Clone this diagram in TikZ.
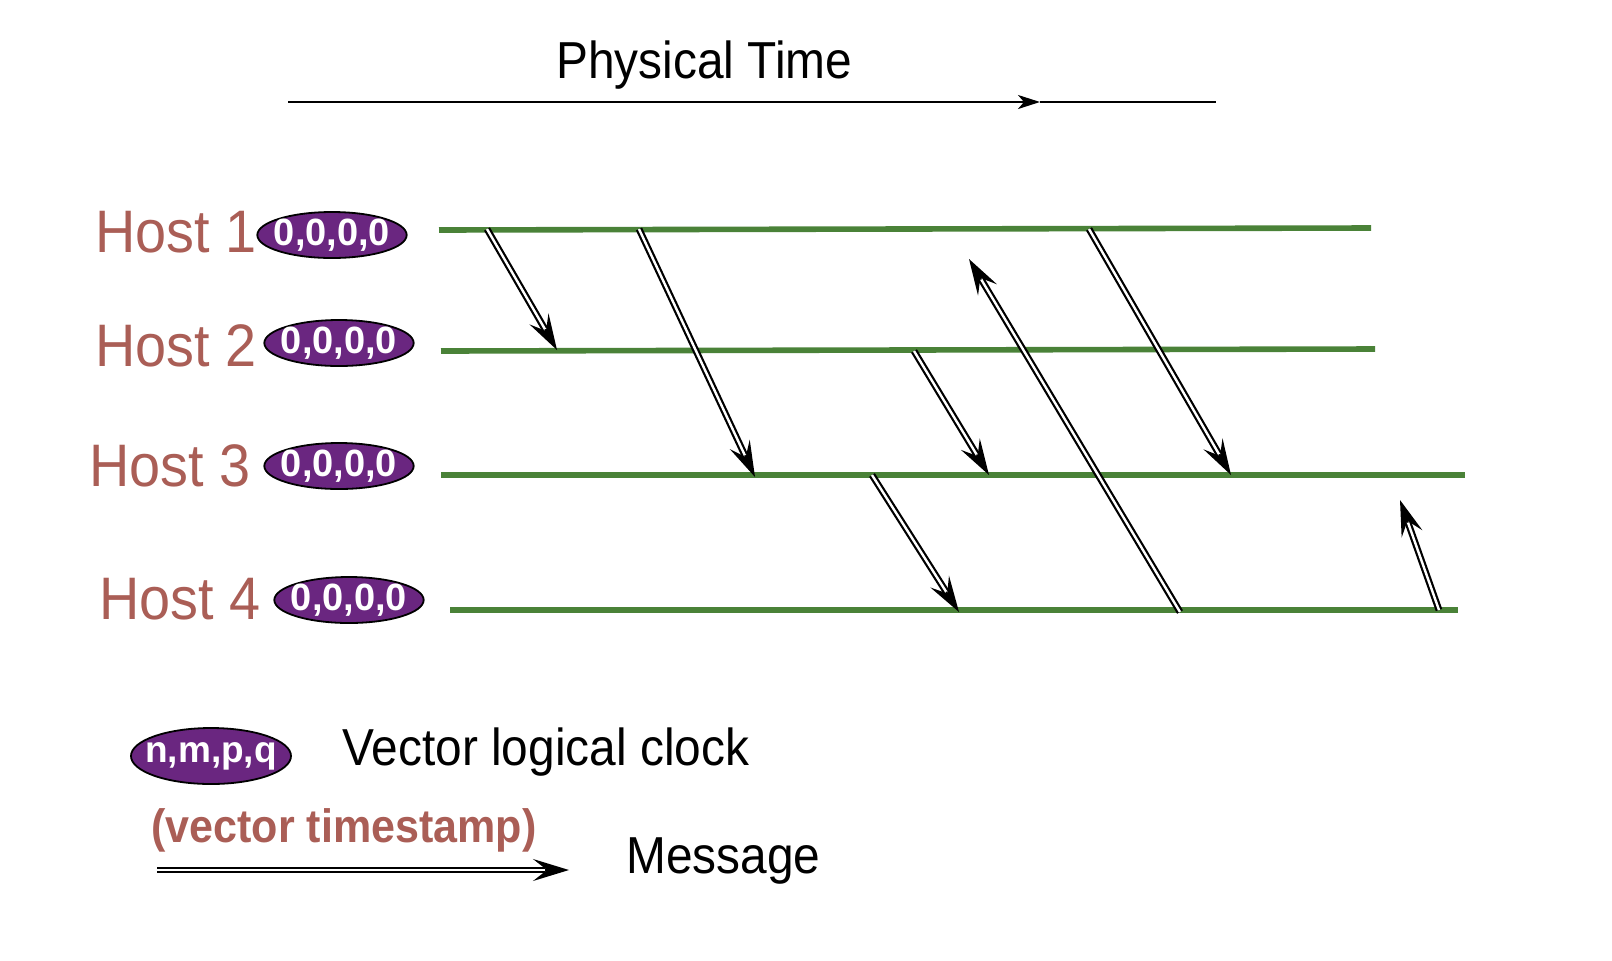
\documentclass[tikz,border=0pt]{standalone}
\usepackage{fontspec}
\setmainfont{Liberation Sans}
\usetikzlibrary{arrows.meta,shapes.geometric}
\definecolor{hostred}{RGB}{170,94,86}
\definecolor{lanegreen}{RGB}{74,130,56}
\definecolor{clockpurple}{RGB}{106,38,128}
\begin{document}
\begin{tikzpicture}[x=0.5pt,y=-0.5pt,
  lane/.style={line width=2.8pt, draw=lanegreen},
  msgtip/.style={draw=black, line width=0.8pt,
    -{Stealth[length=18pt,width=11pt,inset=7pt]}},
  msg/.style={draw=black, double=white, line width=1.1pt, double distance=1.2pt,
    shorten >=12pt},
  clock/.style={ellipse, draw=black, line width=0.9pt, fill=clockpurple, text=white,
    font=\bfseries\fontsize{19}{19}\selectfont, inner xsep=-2.65pt, inner ysep=0pt,
    minimum width=74pt, minimum height=23pt},
  hostlabel/.style={anchor=base west, inner sep=0pt, text=hostred,
    font=\fontsize{30}{30}\selectfont},
  plain/.style={anchor=base west, inner sep=0pt, text=black,
    font=\fontsize{26}{26}\selectfont},
  timeline/.style={draw=black, line width=1.1pt}]
\useasboundingbox (0,0) rectangle (1612,960);

% physical time
\node[plain] (pt) at (556,78) {\scalebox{0.92}[1]{Physical Time}};
\coordinate (t0) at (288,102);
\coordinate (tm) at (1040,102);
\coordinate (t1) at (1216,102);
\draw[timeline, -{Stealth[length=11pt,width=7pt,inset=3pt]}] (t0) -- (tm);
\draw[timeline] (tm) -- (t1);

% host labels and clocks
\node[hostlabel] (l1) at (95,252) {\scalebox{0.93}[1]{Host 1}};
\node[hostlabel] (l2) at (95,366) {\scalebox{0.93}[1]{Host 2}};
\node[hostlabel] (l3) at (89,486) {\scalebox{0.93}[1]{Host 3}};
\node[hostlabel] (l4) at (99,619) {\scalebox{0.93}[1]{Host 4}};
\node[clock] (c1) at (332,235) {0,0,0,0};
\node[clock] (c2) at (339,343) {0,0,0,0};
\node[clock] (c3) at (339,466) {0,0,0,0};
\node[clock] (c4) at (349,600) {0,0,0,0};

% lanes
\coordinate (h1s) at (439,230); \coordinate (h1e) at (1371,228);
\coordinate (h2s) at (441,351); \coordinate (h2e) at (1375,349);
\coordinate (h3s) at (441,475); \coordinate (h3e) at (1465,475);
\coordinate (h4s) at (450,610); \coordinate (h4e) at (1458,610);
\draw[lane] (h1s) -- (h1e);
\draw[lane] (h2s) -- (h2e);
\draw[lane] (h3s) -- (h3e);
\draw[lane] (h4s) -- (h4e);

% messages
\coordinate (m1a) at (487,229);  \coordinate (m1b) at (557,350);
\coordinate (m2a) at (639,229);  \coordinate (m2b) at (755,477);
\coordinate (m3a) at (914,351);  \coordinate (m3b) at (989,475);
\coordinate (m4a) at (872,475);  \coordinate (m4b) at (959,612);
\coordinate (m5a) at (1180,612); \coordinate (m5b) at (969,259);
\coordinate (m6a) at (1089,229); \coordinate (m6b) at (1231,475);
\coordinate (m7a) at (1439,610); \coordinate (m7b) at (1400,500);
\coordinate (la) at (157,870);   \coordinate (lb) at (569,870);
\foreach \m in {m1,m2,m3,m4,m5,m6,m7,l}{
  \draw[msgtip] (\m a) -- (\m b);
  \draw[msg] (\m a) -- (\m b);
}

% legend
\node[clock, font=\bfseries\fontsize{18.5}{19}\selectfont, inner xsep=-5pt,
  minimum width=80pt, minimum height=28pt] (lc) at (211,756) {n,m,p,q};
\node[plain] (lvl) at (342,765) {\scalebox{0.92}[1]{Vector logical clock}};
\node[anchor=base west, inner sep=0pt, text=hostred,
  font=\bfseries\fontsize{23.4}{24}\selectfont] (lvt) at (151,842)
  {\scalebox{0.92}[1]{(vector timestamp)}};
\node[plain] (lm) at (626,873) {\scalebox{0.92}[1]{Message}};
\end{tikzpicture}
\end{document}
